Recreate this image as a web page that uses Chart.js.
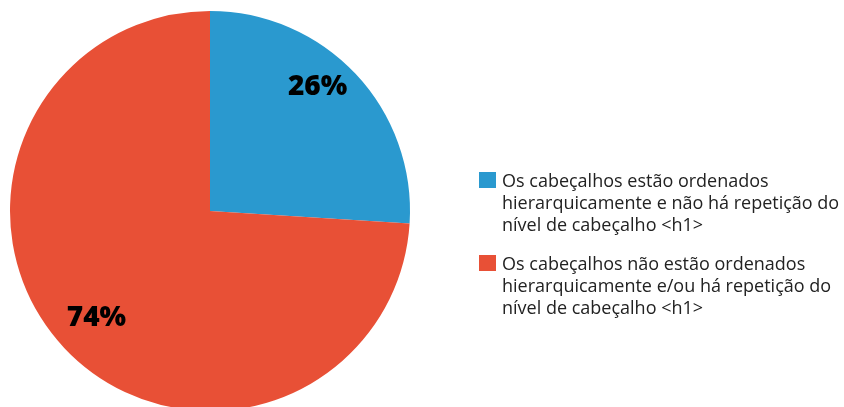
<!DOCTYPE html>
<html lang="pt">
<head>
  <meta charset="UTF-8" />
  <title>Cabeçalhos</title>
  <style>
    html, body {
      margin: 0;
      padding: 0;
      background: #fff;
      width: 844px;
      height: 407px;
      overflow: hidden;
    }
    .wrap {
      position: relative;
      width: 844px;
      height: 407px;
    }
    canvas {
      position: absolute;
      left: 0;
      top: 0;
    }
    #legend {
      position: absolute;
      left: 479px;
      top: 169px;
      font-family: 'Open Sans', sans-serif;
      font-size: 18px;
      line-height: 22px;
      color: #222;
    }
    .item {
      position: relative;
      padding-left: 23px;
      margin-bottom: 17px;
      white-space: nowrap;
    }
    .box {
      position: absolute;
      left: 0;
      top: 3px;
      width: 17px;
      height: 16px;
    }
  </style>
</head>
<body>
  <div class="wrap">
    <canvas id="pie" width="844" height="422"></canvas>
    <div id="legend"></div>
  </div>

  <script src="https://cdn.jsdelivr.net/npm/chart.js"></script>
  <script>
    const categories = [
      ["Os cabeçalhos estão ordenados", "hierarquicamente e não há repetição do", "nível de cabeçalho <h1>"],
      ["Os cabeçalhos não estão ordenados", "hierarquicamente e/ou há repetição do", "nível de cabeçalho <h1>"]
    ];
    const values = [26, 74];
    const colors = ["#2a99cf", "#e85036"];

    // legend as html
    const legend = document.getElementById("legend");
    categories.forEach((lines, i) => {
      const item = document.createElement("div");
      item.className = "item";
      const box = document.createElement("span");
      box.className = "box";
      box.style.background = colors[i];
      item.appendChild(box);
      lines.forEach((l, j) => {
        if (j) item.appendChild(document.createElement("br"));
        item.appendChild(document.createTextNode(l));
      });
      legend.appendChild(item);
    });

    // percentage labels, placed by angle (deg from top, clockwise) and fraction of radius
    const pctLabels = {
      id: "pctLabels",
      afterDatasetsDraw(chart, args, opts) {
        const c = chart.ctx;
        const meta = chart.getDatasetMeta(0);
        c.save();
        c.font = "800 28px 'Open Sans'";
        c.fillStyle = "#000";
        c.textAlign = "center";
        c.textBaseline = "middle";
        meta.data.forEach((arc, i) => {
          const p = opts.pos[i];
          const a = p.angle * Math.PI / 180;
          const r = arc.outerRadius * p.dist;
          c.fillText(values[i] + "%", arc.x + r * Math.sin(a), arc.y - r * Math.cos(a));
        });
        c.restore();
      }
    };

    new Chart(document.getElementById("pie"), {
      type: "pie",
      data: {
        labels: categories.map(l => l.join(" ")),
        datasets: [{
          data: values,
          backgroundColor: colors,
          borderWidth: 0
        }]
      },
      options: {
        responsive: false,
        animation: false,
        layout: { padding: { left: 10, top: 11, right: 434, bottom: 11 } },
        plugins: {
          legend: { display: false },
          tooltip: { enabled: false },
          pctLabels: { pos: [{ angle: 41, dist: 0.82 }, { angle: 226.7, dist: 0.78 }] }
        }
      },
      plugins: [pctLabels]
    });
  </script>
</body>
</html>
